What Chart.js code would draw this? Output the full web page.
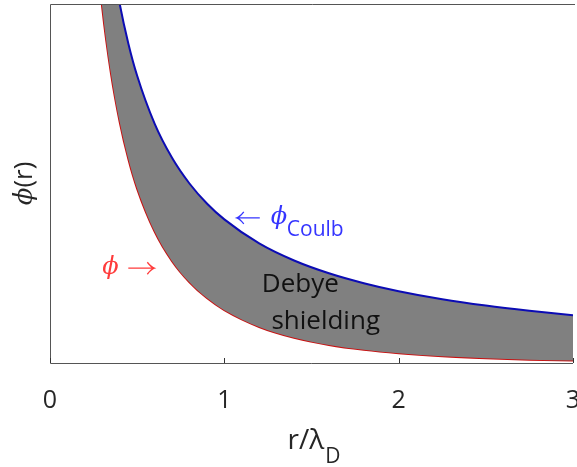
<!DOCTYPE html>
<html>
<head>
    <meta charset="utf-8">
    <script src="https://cdn.jsdelivr.net/npm/chart.js@4.4.0/dist/chart.umd.min.js"></script>
    <style>
        html, body { margin: 0; padding: 0; background: #fff; }
        #chart-container { width: 577px; height: 467px; position: relative; }
    </style>
</head>
<body>
    <div id="chart-container">
        <canvas id="debyeChart" width="577" height="467"></canvas>
    </div>
    <script>
        // r / lambda_D sample positions
        const rVals = [0.25, 0.3, 0.35, 0.4, 0.45, 0.5, 0.6, 0.7, 0.8, 0.9, 1.0,
                       1.2, 1.4, 1.6, 1.8, 2.0, 2.25, 2.5, 2.75, 3.0];
        // Coulomb potential (upper, blue)
        const phiCoulb = [4.0, 3.333, 2.857, 2.5, 2.222, 2.0, 1.667, 1.429, 1.25, 1.111, 1.0,
                          0.833, 0.714, 0.625, 0.556, 0.5, 0.444, 0.4, 0.364, 0.333];
        // screened potential (lower, red)
        const phiDebye = [3.115, 2.469, 2.013, 1.676, 1.417, 1.213, 0.915, 0.709, 0.562, 0.452, 0.368,
                          0.251, 0.176, 0.126, 0.092, 0.068, 0.047, 0.033, 0.023, 0.017];
        const xTicks = [0, 1, 2, 3];

        const ctx = document.getElementById('debyeChart').getContext('2d');
        const fontFam = '"Open Sans", "DejaVu Sans", sans-serif';
        const phiFont = 'italic 24px "DejaVu Serif", serif';

        function pts(ys) {
            return rVals.map((r, i) => ({ x: r, y: ys[i] }));
        }

        // TeX-like thin arrow, dir = -1 left, +1 right
        function arrow(c, x0, x1, y, dir) {
            c.beginPath();
            c.moveTo(x0, y);
            c.lineTo(x1, y);
            const tip = dir < 0 ? x0 : x1;
            c.moveTo(tip - dir * 7, y - 6);
            c.quadraticCurveTo(tip - dir * 3, y - 1, tip, y);
            c.quadraticCurveTo(tip - dir * 3, y + 1, tip - dir * 7, y + 6);
            c.stroke();
        }

        const annotations = {
            id: 'annotations',
            afterDatasetsDraw(chart) {
                const c = chart.ctx;
                const xs = chart.scales.x, ys = chart.scales.y;
                const a = chart.chartArea;
                c.save();

                // box: left, top, bottom
                c.strokeStyle = '#555';
                c.lineWidth = 1;
                c.beginPath();
                c.moveTo(a.right + 2, a.top + 0.5);
                c.lineTo(a.left + 0.5, a.top + 0.5);
                c.lineTo(a.left + 0.5, a.bottom + 0.5);
                c.lineTo(a.right, a.bottom + 0.5);
                c.stroke();

                // inward ticks
                c.strokeStyle = '#333';
                xTicks.forEach(t => {
                    const px = Math.round(xs.getPixelForValue(t)) + 0.5;
                    c.beginPath();
                    c.moveTo(px, a.bottom);
                    c.lineTo(px, a.bottom - 5);
                    c.stroke();
                });

                c.textBaseline = 'middle';
                c.textAlign = 'left';

                // blue label
                let x = xs.getPixelForValue(1.06), y = ys.getPixelForValue(1.01);
                c.fillStyle = '#3535ff';
                c.strokeStyle = '#3535ff';
                c.lineWidth = 1.3;
                arrow(c, x + 2, x + 25, y, -1);
                c.font = phiFont;
                c.fillText('\u03d5', x + 36, y);
                c.font = '21px ' + fontFam;
                c.fillText('Coulb', x + 52, y + 12);

                // red label
                x = xs.getPixelForValue(0.30); y = ys.getPixelForValue(0.66);
                c.fillStyle = '#ff3b3b';
                c.strokeStyle = '#ff3b3b';
                c.font = phiFont;
                c.fillText('\u03d5', x, y);
                arrow(c, x + 26, x + 52, y, 1);

                // Debye shielding
                c.fillStyle = '#111';
                c.font = '26px ' + fontFam;
                c.fillText('Debye', xs.getPixelForValue(1.215), ys.getPixelForValue(0.545));
                c.fillText('shielding', xs.getPixelForValue(1.27), ys.getPixelForValue(0.29));

                // axis titles
                c.fillStyle = '#262626';
                c.textBaseline = 'alphabetic';
                c.font = '28px ' + fontFam;
                const xt = 'r/';
                const w1 = c.measureText(xt).width;
                const wl = c.measureText('\u03bb').width;
                c.font = '21px ' + fontFam;
                const wd = c.measureText('D').width;
                let sx = (a.left + a.right) / 2 - (w1 + wl + wd) / 2 + 2;
                c.font = '28px ' + fontFam;
                c.fillText(xt, sx, 449);
                c.fillText('\u03bb', sx + w1, 449);
                c.font = '21px ' + fontFam;
                c.fillText('D', sx + w1 + wl + 1, 463);

                c.textBaseline = 'middle';
                c.translate(25, (a.top + a.bottom) / 2);
                c.rotate(-Math.PI / 2);
                c.font = 'italic 26px "DejaVu Serif", serif';
                const wp = c.measureText('\u03d5').width;
                c.font = '26px ' + fontFam;
                const wr = c.measureText('(r)').width;
                c.font = 'italic 26px "DejaVu Serif", serif';
                c.fillText('\u03d5', -(wp + wr) / 2, 0);
                c.font = '26px ' + fontFam;
                c.fillText('(r)', -(wp + wr) / 2 + wp, 0);
                c.restore();
            }
        };

        const chart = new Chart(ctx, {
            type: 'line',
            data: {
                datasets: [
                    {
                        label: 'phi Coulb',
                        data: pts(phiCoulb),
                        borderColor: '#0c0cb4',
                        borderWidth: 2,
                        backgroundColor: '#808080',
                        fill: '+1',
                        pointRadius: 0,
                        cubicInterpolationMode: 'monotone'
                    },
                    {
                        label: 'phi',
                        data: pts(phiDebye),
                        borderColor: '#c81010',
                        borderWidth: 2,
                        fill: false,
                        pointRadius: 0,
                        cubicInterpolationMode: 'monotone'
                    }
                ]
            },
            options: {
                responsive: false,
                animation: false,
                layout: { padding: { top: 4, right: 4, left: 0, bottom: 0 } },
                plugins: { legend: { display: false }, tooltip: { enabled: false } },
                scales: {
                    x: {
                        type: 'linear',
                        min: 0,
                        max: 3,
                        grid: { display: false },
                        border: { display: false },
                        afterBuildTicks(scale) {
                            scale.ticks = xTicks.map(v => ({ value: v }));
                        },
                        ticks: {
                            color: '#262626',
                            padding: 15,
                            font: { family: fontFam, size: 25 }
                        },
                        afterFit(scale) {
                            scale.height = 104;
                            scale.paddingLeft = 0;
                            scale.paddingRight = 0;
                        }
                    },
                    y: {
                        min: 0,
                        max: 2.5,
                        grid: { display: false },
                        border: { display: false },
                        ticks: { display: false },
                        afterFit(scale) {
                            scale.width = 50;
                        }
                    }
                }
            },
            plugins: [annotations]
        });
    </script>
</body>
</html>
